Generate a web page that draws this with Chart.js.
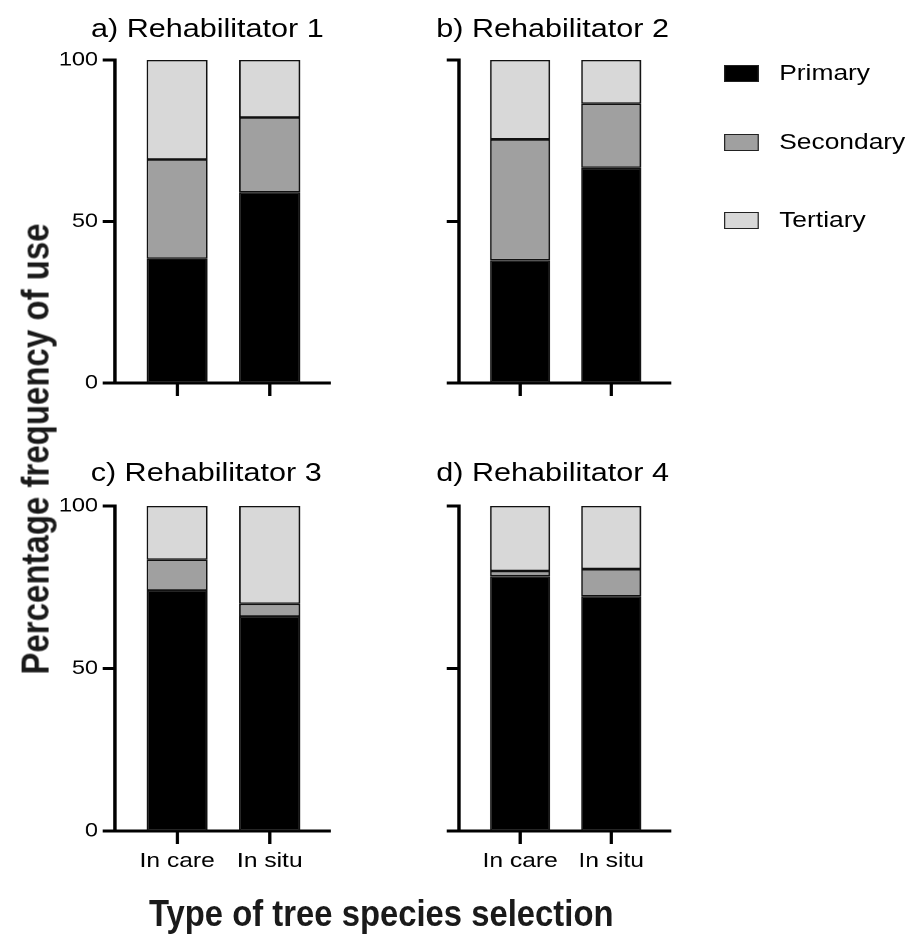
<!DOCTYPE html>
<html>
<head>
<meta charset="utf-8">
<script src="https://cdn.jsdelivr.net/npm/chart.js@4.4.1/dist/chart.umd.min.js"></script>
<style>
  body { margin: 0; background: #fff; overflow: hidden; }
  /* the published figure is stretched ~1.2x horizontally, so lay it out narrow and stretch it */
  #fig { position: relative; width: 760px; height: 940px; transform: scaleX(1.19875); transform-origin: 0 0;
         font-family: 'Liberation Sans', Arial, sans-serif; color: #000; }
  #fig canvas { position: absolute; }
  .ptitle { position: absolute; white-space: nowrap; font-size: 25.5px; line-height: 1; transform: translate(-50%, -50%); }
  .axis-title { position: absolute; white-space: nowrap; font-weight: bold; color: #1a1a1a; line-height: 1; }
  #ytitle { left: 29px; top: 449px; font-size: 33px; transform: translate(-50%, -50%) rotate(-90deg); }
  #xtitle { left: 318px; top: 913px; font-size: 37px; transform: translate(-50%, -50%) scaleX(0.74); }
  .leg-item { position: absolute; left: 604px; height: 30px; display: flex; align-items: center; font-size: 22px; }
  .leg-box { width: 27px; height: 15px; border: 1.3px solid #222; margin-right: 17px; }
</style>
</head>
<body>
<div id="fig">
  <canvas id="p0"></canvas>
  <canvas id="p1"></canvas>
  <canvas id="p2"></canvas>
  <canvas id="p3"></canvas>
  <div id="titles"></div>
  <div id="ytitle" class="axis-title">Percentage frequency of use</div>
  <div id="xtitle" class="axis-title">Type of tree species selection</div>
  <div id="legend"></div>
</div>
<script>
// values (% of use; each pair is [In care, In situ])
const categories = ['In care', 'In situ'];
const panelTitles = ['a) Rehabilitator 1', 'b) Rehabilitator 2', 'c) Rehabilitator 3', 'd) Rehabilitator 4'];
const seriesNames = ['Primary', 'Secondary', 'Tertiary'];
const primary   = [[38.5, 59.0], [38.0, 66.6], [74.0, 66.0], [78.4, 72.2]];
const secondary = [[30.7, 23.2], [37.4, 19.9], [9.5, 3.9], [1.6, 8.4]];
const tertiary  = [[30.8, 17.8], [24.6, 13.5], [16.5, 30.1], [20.0, 19.4]];
const yTicks = [0, 50, 100];

const seriesColors = ['#000000', '#a0a0a0', '#d8d8d8'];
const legendTops = [58, 127, 205];

// canvas boxes (unstretched px), chosen so plot areas land where the figure has them
const panels = [
  { left: 40,  top: 0,   width: 236, height: 403, padT: 60, yw: 56, xh: 20, yLabels: true,  xLabels: false, tx: 173, ty: 29 },
  { left: 362, top: 0,   width: 198, height: 403, padT: 60, yw: 21, xh: 20, yLabels: false, xLabels: false, tx: 461, ty: 29 },
  { left: 40,  top: 440, width: 236, height: 446, padT: 66, yw: 56, xh: 55, yLabels: true,  xLabels: true,  tx: 172, ty: 473 },
  { left: 362, top: 440, width: 198, height: 446, padT: 66, yw: 21, xh: 55, yLabels: false, xLabels: true,  tx: 461, ty: 473 }
];

Chart.defaults.font.family = "'Liberation Sans', Arial, sans-serif";
Chart.defaults.color = '#000';

const seriesData = [primary, secondary, tertiary];

panels.forEach((cfg, p) => {
  const cv = document.getElementById('p' + p);
  cv.width = cfg.width;
  cv.height = cfg.height;
  cv.style.width = cfg.width + 'px';
  cv.style.height = cfg.height + 'px';
  cv.style.left = cfg.left + 'px';
  cv.style.top = cfg.top + 'px';

  new Chart(cv.getContext('2d'), {
    type: 'bar',
    data: {
      datasets: seriesNames.map((name, s) => ({
        label: name,
        data: seriesData[s][p].map((v, i) => ({ x: i, y: v })),
        backgroundColor: seriesColors[s],
        borderColor: '#111',
        borderWidth: 1.4,
        borderSkipped: false,
        categoryPercentage: 1,
        barPercentage: 0.66
      }))
    },
    options: {
      responsive: false,
      animation: false,
      devicePixelRatio: 2,
      layout: { padding: { left: 0, right: 0, top: cfg.padT, bottom: 0 } },
      plugins: {
        legend: { display: false },
        tooltip: { enabled: false },
        title: { display: false }
      },
      scales: {
        x: {
          type: 'linear',
          stacked: true,
          offset: false,
          min: -0.67,
          max: 1.66,
          afterBuildTicks: sc => { sc.ticks = categories.map((c, i) => ({ value: i })); },
          afterFit: sc => { sc.height = cfg.xh; },
          ticks: { callback: v => cfg.xLabels ? categories[v] : '', font: { size: 20.5 }, padding: 5, maxRotation: 0, autoSkip: false },
          grid: { drawOnChartArea: false, drawTicks: true, tickLength: 13, tickWidth: 2.8, tickColor: '#000', offset: false },
          border: { display: true, width: 3, color: '#000' }
        },
        y: {
          stacked: true,
          min: 0,
          max: 100,
          afterBuildTicks: sc => { sc.ticks = yTicks.map(v => ({ value: v })); },
          afterFit: sc => { sc.width = cfg.yw; },
          ticks: { callback: v => cfg.yLabels ? String(v) : '', font: { size: 19.5 }, padding: 4 },
          grid: { drawOnChartArea: false, drawTicks: true, tickLength: 10.3, tickWidth: 3, tickColor: '#000', offset: false },
          border: { display: true, width: 2.8, color: '#000' }
        }
      }
    }
  });

  const t = document.createElement('div');
  t.className = 'ptitle';
  t.textContent = panelTitles[p];
  t.style.left = cfg.tx + 'px';
  t.style.top = cfg.ty + 'px';
  document.getElementById('titles').appendChild(t);
});

// legend
const leg = document.getElementById('legend');
seriesNames.forEach((name, s) => {
  const item = document.createElement('div');
  item.className = 'leg-item';
  item.style.top = legendTops[s] + 'px';
  const box = document.createElement('span');
  box.className = 'leg-box';
  box.style.background = seriesColors[s];
  const txt = document.createElement('span');
  txt.textContent = name;
  item.appendChild(box);
  item.appendChild(txt);
  leg.appendChild(item);
});
</script>
</body>
</html>
